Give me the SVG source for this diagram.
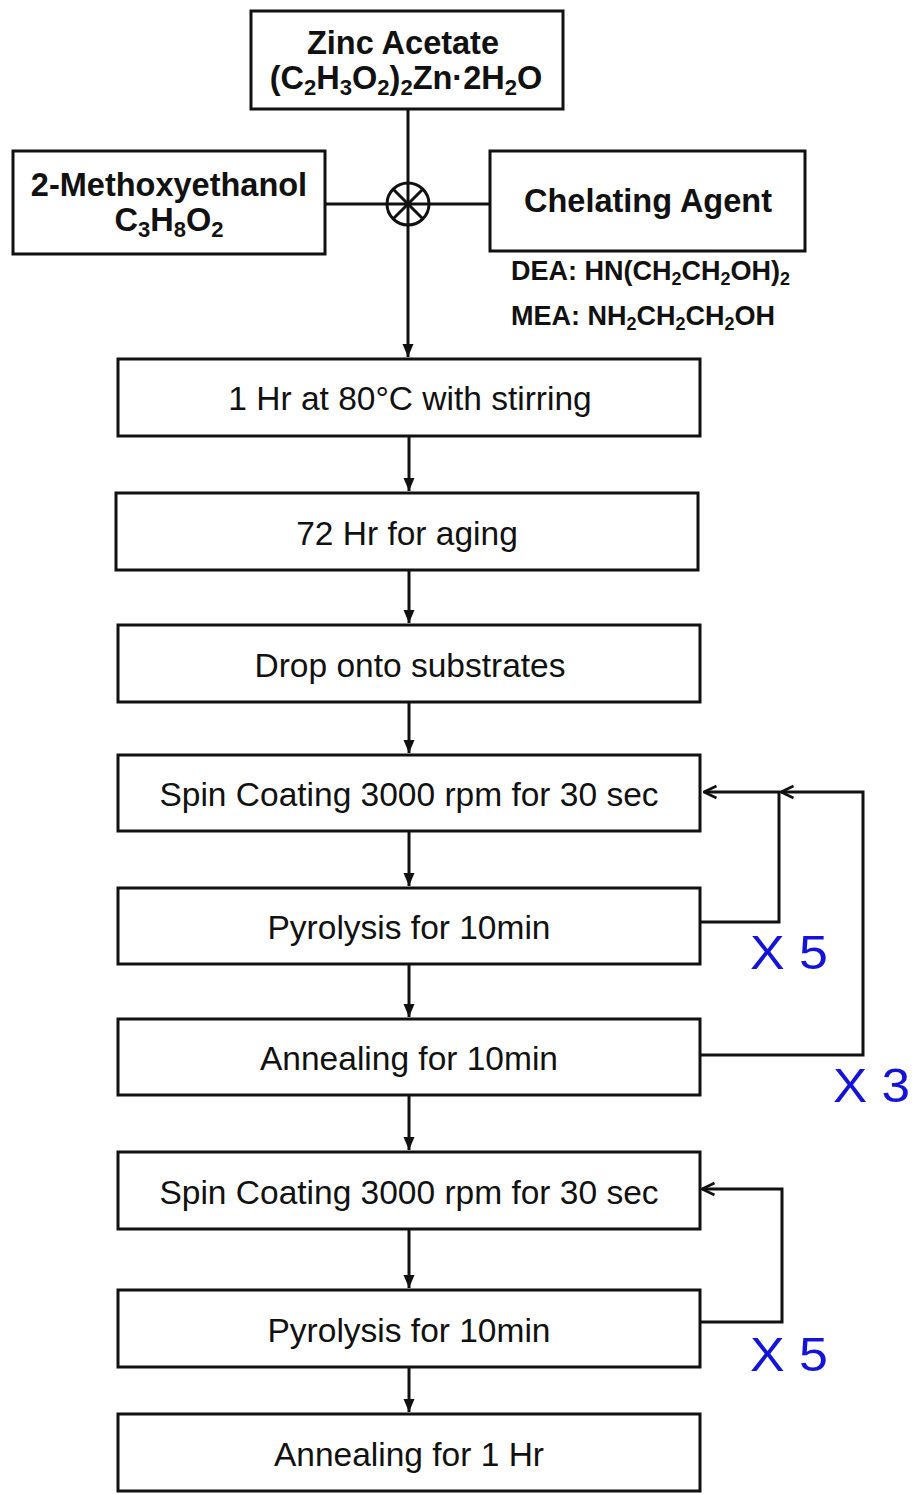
<svg xmlns="http://www.w3.org/2000/svg" width="912" height="1494" viewBox="0 0 912 1494">
<style>
.box{fill:#fff;stroke:#111;stroke-width:3}
.bt{font-family:"Liberation Sans",Arial,sans-serif;font-weight:bold;fill:#111;text-anchor:middle}
.rt{font-family:"Liberation Sans",Arial,sans-serif;font-size:33.5px;fill:#111;text-anchor:middle}
.ln{fill:none;stroke:#111;stroke-width:3}
.lp{fill:none;stroke:#111;stroke-width:3}
.bl{font-family:"Liberation Sans",Arial,sans-serif;font-size:49px;fill:#1414d8}
</style>
<defs>
<marker id="ah" markerUnits="userSpaceOnUse" markerWidth="14" markerHeight="14" viewBox="0 0 14 14" refX="13" refY="7" orient="auto">
<path d="M0,1.5 L13,7 L0,12.5 Z" fill="#111"/>
</marker>
<marker id="oa" markerUnits="userSpaceOnUse" markerWidth="16" markerHeight="16" viewBox="0 0 16 16" refX="14.5" refY="8" orient="auto">
<path d="M2,2 L14.5,8 L2,14" fill="none" stroke="#111" stroke-width="2.5"/>
</marker>
</defs>
<rect width="912" height="1494" fill="#fff"/>
<g id="connectors">
<line class="ln" x1="408" y1="109" x2="408" y2="357" marker-end="url(#ah)"/>
<line class="ln" x1="325" y1="204" x2="490" y2="204"/>
<circle cx="408" cy="204" r="21" fill="none" stroke="#111" stroke-width="3"/>
<line class="ln" x1="393" y1="189" x2="423" y2="219"/>
<line class="ln" x1="423" y1="189" x2="393" y2="219"/>
<line class="ln" x1="409" y1="436" x2="409" y2="491" marker-end="url(#ah)"/>
<line class="ln" x1="409" y1="570" x2="409" y2="623" marker-end="url(#ah)"/>
<line class="ln" x1="409" y1="702" x2="409" y2="753" marker-end="url(#ah)"/>
<line class="ln" x1="409" y1="831" x2="409" y2="886" marker-end="url(#ah)"/>
<line class="ln" x1="409" y1="964" x2="409" y2="1017" marker-end="url(#ah)"/>
<line class="ln" x1="409" y1="1095" x2="409" y2="1150" marker-end="url(#ah)"/>
<line class="ln" x1="409" y1="1229" x2="409" y2="1288" marker-end="url(#ah)"/>
<line class="ln" x1="409" y1="1367" x2="409" y2="1412" marker-end="url(#ah)"/>
<polyline class="lp" points="700,922 779,922 779,792 704,792" marker-end="url(#oa)"/>
<polyline class="lp" points="700,1055 863,1055 863,792 781,792" marker-end="url(#oa)"/>
<polyline class="lp" points="700,1322 782,1322 782,1189 702,1189" marker-end="url(#oa)"/>
</g>
<g id="zinc">
<rect class="box" x="251" y="11" width="312" height="98"/>
<text class="bt" x="403" y="54" font-size="32.5">Zinc Acetate</text>
<text class="bt" x="406" y="89" font-size="32.5">(C<tspan font-size="22" dy="6">2</tspan><tspan dy="-6">H</tspan><tspan font-size="22" dy="6">3</tspan><tspan dy="-6">O</tspan><tspan font-size="22" dy="6">2</tspan><tspan dy="-6">)</tspan><tspan font-size="22" dy="6">2</tspan><tspan dy="-6">Zn·2H</tspan><tspan font-size="22" dy="6">2</tspan><tspan dy="-6">O</tspan></text>
</g>
<g id="methoxy">
<rect class="box" x="13" y="151" width="312" height="103"/>
<text class="bt" x="169" y="196" font-size="32.5">2-Methoxyethanol</text>
<text class="bt" x="169" y="231" font-size="32.5">C<tspan font-size="22" dy="6">3</tspan><tspan dy="-6">H</tspan><tspan font-size="22" dy="6">8</tspan><tspan dy="-6">O</tspan><tspan font-size="22" dy="6">2</tspan></text>
</g>
<g id="chelating">
<rect class="box" x="490" y="151" width="315" height="100"/>
<text class="bt" x="648" y="212" font-size="32.5">Chelating Agent</text>
<text class="bt" x="511" y="280" font-size="27" style="text-anchor:start">DEA: HN(CH<tspan font-size="18" dy="5">2</tspan><tspan dy="-5">CH</tspan><tspan font-size="18" dy="5">2</tspan><tspan dy="-5">OH)</tspan><tspan font-size="18" dy="5">2</tspan></text>
<text class="bt" x="511" y="325" font-size="27" style="text-anchor:start">MEA: NH<tspan font-size="18" dy="5">2</tspan><tspan dy="-5">CH</tspan><tspan font-size="18" dy="5">2</tspan><tspan dy="-5">CH</tspan><tspan font-size="18" dy="5">2</tspan><tspan dy="-5">OH</tspan></text>
</g>
<g id="step1"><rect class="box" x="118" y="359" width="582" height="77"/><text class="rt" x="410" y="410">1 Hr at 80°C with stirring</text></g>
<g id="step2"><rect class="box" x="116" y="493" width="582" height="77"/><text class="rt" x="407" y="545">72 Hr for aging</text></g>
<g id="step3"><rect class="box" x="118" y="625" width="582" height="77"/><text class="rt" x="410" y="677">Drop onto substrates</text></g>
<g id="step4"><rect class="box" x="118" y="755" width="582" height="76"/><text class="rt" x="409" y="806">Spin Coating 3000 rpm for 30 sec</text></g>
<g id="step5"><rect class="box" x="118" y="888" width="582" height="76"/><text class="rt" x="409" y="939">Pyrolysis for 10min</text></g>
<g id="step6"><rect class="box" x="118" y="1019" width="582" height="76"/><text class="rt" x="409" y="1070">Annealing for 10min</text></g>
<g id="step7"><rect class="box" x="118" y="1152" width="582" height="77"/><text class="rt" x="409" y="1204">Spin Coating 3000 rpm for 30 sec</text></g>
<g id="step8"><rect class="box" x="118" y="1290" width="582" height="77"/><text class="rt" x="409" y="1342">Pyrolysis for 10min</text></g>
<g id="step9"><rect class="box" x="118" y="1414" width="582" height="77"/><text class="rt" x="409" y="1466">Annealing for 1 Hr</text></g>
<g id="labels">
<text class="bl" x="750" y="969" textLength="78" lengthAdjust="spacingAndGlyphs">X 5</text>
<text class="bl" x="833" y="1102" textLength="77" lengthAdjust="spacingAndGlyphs">X 3</text>
<text class="bl" x="750" y="1371" textLength="78" lengthAdjust="spacingAndGlyphs">X 5</text>
</g>
</svg>
